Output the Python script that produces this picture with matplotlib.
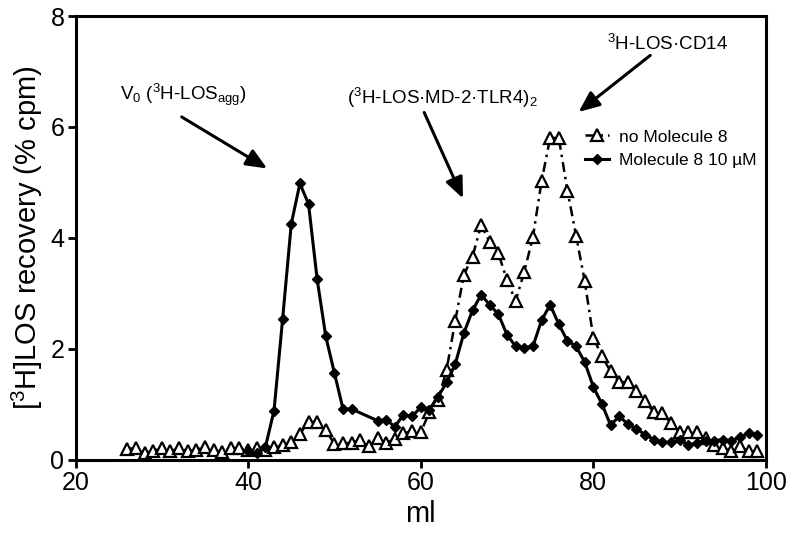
import numpy as np
import matplotlib
matplotlib.use("Agg")
import matplotlib.pyplot as plt

plt.rcParams['font.family'] = ['Liberation Sans', 'DejaVu Sans']
plt.rcParams['mathtext.fontset'] = 'custom'
plt.rcParams['mathtext.rm'] = 'Liberation Sans'
plt.rcParams['mathtext.it'] = 'Liberation Sans:italic'
plt.rcParams['mathtext.default'] = 'regular'

# no Molecule 8 (open triangles), 1 ml fractions
ml_ctrl = list(range(26, 100))
ctrl = [0.19, 0.21, 0.12, 0.15, 0.21, 0.15, 0.20, 0.15, 0.17, 0.23,
        0.17, 0.13, 0.21, 0.20, 0.18, 0.20, 0.18, 0.22, 0.26, 0.31,
        0.46, 0.68, 0.68, 0.53, 0.28, 0.29, 0.30, 0.35, 0.24, 0.38,
        0.30, 0.37, 0.47, 0.51, 0.49, 0.85, 1.07, 1.62, 2.50, 3.33,
        3.66, 4.23, 3.92, 3.72, 3.23, 2.86, 3.39, 4.01, 5.02, 5.80,
        5.80, 4.85, 4.04, 3.22, 2.20, 1.86, 1.59, 1.40, 1.39, 1.23,
        1.05, 0.86, 0.84, 0.66, 0.49, 0.49, 0.49, 0.39, 0.27, 0.21,
        0.15, 0.24, 0.15, 0.15]

# Molecule 8 10 uM (filled diamonds)
ml_mol8 = [40, 41, 42, 43, 44, 45, 46, 47, 48, 49, 50, 51, 52,
           55, 56, 57, 58, 59, 60, 61, 62, 63, 64, 65, 66, 67, 68, 69,
           70, 71, 72, 73, 74, 75, 76, 77, 78, 79, 80, 81, 82, 83, 84,
           85, 86, 87, 88, 89, 90, 91, 92, 93, 94, 95, 96, 97, 98, 99]
mol8 = [0.15, 0.12, 0.22, 0.88, 2.54, 4.25, 4.98, 4.61, 3.25, 2.22, 1.56, 0.91, 0.91,
        0.70, 0.72, 0.59, 0.81, 0.78, 0.94, 0.90, 1.13, 1.39, 1.72, 2.28, 2.69, 2.97, 2.79, 2.62,
        2.25, 2.04, 2.02, 2.04, 2.51, 2.79, 2.44, 2.14, 2.04, 1.76, 1.31, 1.00, 0.62, 0.78, 0.64,
        0.55, 0.45, 0.36, 0.31, 0.31, 0.36, 0.26, 0.30, 0.34, 0.34, 0.36, 0.34, 0.40, 0.48, 0.44]

fig = plt.figure(figsize=(8, 5.34), dpi=100)
ax = fig.add_axes([0.0944, 0.1395, 0.863, 0.8305])

ax.plot(ml_ctrl, ctrl, color='black', lw=1.8, dashes=(4, 2, 1, 2),
        marker='^', ms=8, mfc='white', mec='black', mew=1.6, label='no Molecule 8', zorder=2)
ax.plot(ml_mol8, mol8, color='black', lw=2.2, marker='D', ms=5.5,
        mfc='black', mec='black', label='Molecule 8 10 µM', zorder=3)

ax.set_xlim(20, 100)
ax.set_ylim(0, 8)
ax.set_xticks([20, 40, 60, 80, 100])
ax.set_yticks([0, 2, 4, 6, 8])
ax.tick_params(direction='out', length=6, width=2, labelsize=18, pad=2)
for s in ax.spines.values():
    s.set_linewidth(2.2)
ax.set_xlabel('ml', fontsize=21, labelpad=4)
ax.set_ylabel(r'[$^3$H]LOS recovery (% cpm)', fontsize=21, labelpad=4)

leg = ax.legend(loc='upper left', bbox_to_anchor=(0.728, 0.76), frameon=False,
                fontsize=12.5, handlelength=1.4, handletextpad=0.55, labelspacing=0.5,
                borderaxespad=0)

arrow = dict(arrowstyle='-|>,head_length=0.7,head_width=0.3', lw=2.2,
             color='black', mutation_scale=18, shrinkA=0, shrinkB=0)

ax.text(25.2, 6.48, r'V$_0$ ($^3$H-LOS$_{agg}$)', fontsize=13.5, va='baseline')
ax.annotate('', xy=(42.2, 5.25), xytext=(32.3, 6.18), arrowprops=arrow)

ax.text(51.4, 6.41, r'($^3$H-LOS·MD-2·TLR4)$_2$', fontsize=13.5, va='baseline')
ax.annotate('', xy=(64.9, 4.71), xytext=(60.4, 6.26), arrowprops=arrow)

ax.text(81.55, 7.38, r'$^3$H-LOS·CD14', fontsize=13.5, va='baseline')
ax.annotate('', xy=(78.3, 6.27), xytext=(86.6, 7.29), arrowprops=arrow)

fig.savefig('out.png', dpi=100)
